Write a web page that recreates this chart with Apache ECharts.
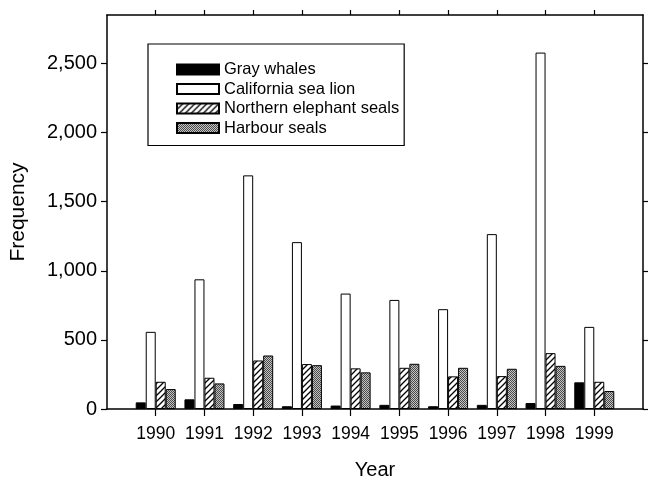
<!DOCTYPE html>
<html><head><meta charset="utf-8">
<script src="https://cdn.jsdelivr.net/npm/echarts@6/dist/echarts.min.js"></script>
<style>html,body{margin:0;padding:0;background:#fff}#c{width:650px;height:484px}</style>
</head><body><div id="c"></div>
<script>
// ---- data ----
const years = [1990, 1991, 1992, 1993, 1994, 1995, 1996, 1997, 1998, 1999];
const seriesNames = ['Gray whales', 'California sea lion', 'Northern elephant seals', 'Harbour seals'];
const grayWhales = [48, 70, 36, 20, 25, 30, 20, 30, 43, 193];
const seaLion = [558, 938, 1690, 1207, 835, 789, 722, 1265, 2578, 594];
const elephantSeals = [197, 226, 351, 325, 294, 298, 236, 238, 404, 197];
const harbourSeals = [144, 185, 387, 317, 265, 327, 298, 291, 312, 130];
const yTicks = [0, 500, 1000, 1500, 2000, 2500];

// ---- patterns ----
function hatch() {
  const c = document.createElement('canvas'); c.width = 6; c.height = 6;
  const g = c.getContext('2d');
  g.fillStyle = '#fff'; g.fillRect(0, 0, 6, 6);
  g.strokeStyle = '#000'; g.lineWidth = 1.3;
  g.beginPath();
  g.moveTo(-1, 7); g.lineTo(7, -1);
  g.moveTo(-4, 4); g.lineTo(4, -4);
  g.moveTo(2, 10); g.lineTo(10, 2);
  g.stroke();
  return { image: c, repeat: 'repeat' };
}
function stipple() {
  const c = document.createElement('canvas'); c.width = 2; c.height = 2;
  const g = c.getContext('2d');
  g.fillStyle = '#c4c4c4'; g.fillRect(0, 0, 2, 2);
  g.fillStyle = '#4a4a4a'; g.fillRect(0, 0, 1, 1); g.fillRect(1, 1, 1, 1);
  return { image: c, repeat: 'repeat' };
}

const FONT = '"Liberation Sans", Arial, Helvetica, sans-serif';
const fills = ['#000', '#fff', hatch(), stipple()];
const values = [grayWhales, seaLion, elephantSeals, harbourSeals];

const chart = echarts.init(document.getElementById('c'), null, { renderer: 'canvas' });
const axisLine = { show: true, onZero: false, lineStyle: { color: '#000', width: 1.5 } };

chart.setOption({
  animation: false,
  backgroundColor: '#fff',
  textStyle: { fontFamily: FONT, color: '#000' },
  grid: { left: 107, right: 7, top: 15, bottom: 75, containLabel: false, outerBoundsMode: 'none' },
  legend: {
    orient: 'vertical', left: 148, top: 44,
    padding: [17, 5, 9, 28], itemGap: 2.5, itemWidth: 42, itemHeight: 10,
    borderColor: '#000', borderWidth: 1.2, backgroundColor: '#fff',
    icon: 'rect',
    textStyle: { fontSize: 16.5, color: '#000', fontFamily: FONT },
    data: seriesNames
  },
  xAxis: [
    {
      type: 'value', position: 'bottom', min: 1989, max: 2000, interval: 1,
      axisLine: axisLine,
      axisTick: { show: true, inside: false, length: 7, customValues: years, lineStyle: { color: '#000', width: 1.2 } },
      axisLabel: { customValues: years, formatter: v => String(v), fontSize: 17.5, color: '#000', margin: 16, fontFamily: FONT },
      splitLine: { show: false },
      name: 'Year', nameLocation: 'middle', nameGap: 51,
      nameTextStyle: { fontSize: 20, color: '#000', fontFamily: FONT }
    },
    {
      type: 'value', position: 'top', min: 1989, max: 2000, interval: 1,
      axisLine: axisLine,
      axisTick: { show: true, inside: false, length: 5, customValues: years, lineStyle: { color: '#000', width: 1.2 } },
      axisLabel: { show: false },
      splitLine: { show: false }
    }
  ],
  yAxis: [
    {
      type: 'value', position: 'left', min: 0, max: 2850,
      axisLine: axisLine,
      axisTick: { show: true, inside: false, length: 6, customValues: yTicks, lineStyle: { color: '#000', width: 1.2 } },
      axisLabel: { customValues: yTicks, formatter: v => v.toLocaleString('en-US'), fontSize: 20, color: '#000', margin: 10, fontFamily: FONT },
      splitLine: { show: false },
      name: 'Frequency', nameLocation: 'middle', nameGap: 78, nameRotate: 90,
      nameTextStyle: { fontSize: 21, color: '#000', fontFamily: FONT }
    },
    {
      type: 'value', position: 'right', min: 0, max: 2850,
      axisLine: axisLine,
      axisTick: { show: true, inside: false, length: 5, customValues: yTicks, lineStyle: { color: '#000', width: 1.2 } },
      axisLabel: { show: false },
      splitLine: { show: false }
    }
  ],
  series: seriesNames.map((name, k) => ({
    name: name,
    type: 'bar',
    xAxisIndex: 0, yAxisIndex: 0,
    barWidth: 10, barGap: '0%',
    itemStyle: { color: fills[k], borderColor: '#000', borderWidth: 1 },
    emphasis: { disabled: true },
    data: years.map((y, i) => [y, values[k][i]])
  }))
});
</script>
</body></html>
